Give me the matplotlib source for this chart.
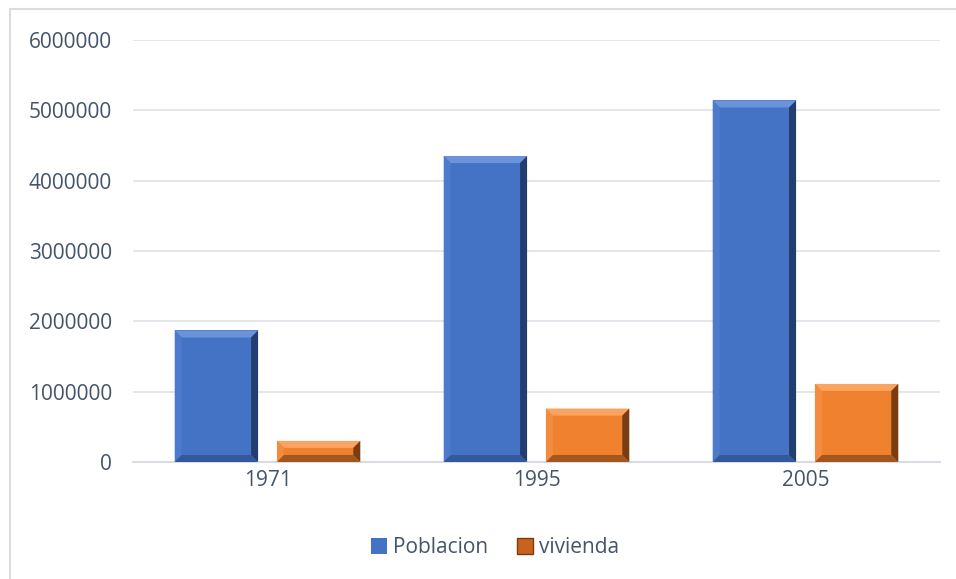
import numpy as np
import matplotlib.pyplot as plt
from matplotlib.patches import Polygon, Rectangle, Patch
from matplotlib.ticker import StrMethodFormatter

years = ["1971", "1995", "2005"]
poblacion = [1870000, 4350000, 5140000]
vivienda = [300000, 760000, 1110000]

text_c = "#44546A"
plt.rcParams["font.family"] = ["Open Sans", "DejaVu Sans"]

fig = plt.figure(figsize=(9.56, 5.79), dpi=100)
fig.patches.append(Rectangle((9.5 / 956, -0.1), 1.2, 1 - 9.5 / 579 + 0.1, transform=fig.transFigure,
                             fill=False, edgecolor="#D9DDE3", linewidth=1.5))
ax = fig.add_axes([133 / 956, 1 - 462 / 579, (940 - 133) / 956, (462 - 40) / 579])

x = np.arange(len(years))
w = 0.31
off = 0.19
b1 = ax.bar(x - off, poblacion, w, color="#4472C4", zorder=2)
b2 = ax.bar(x + off, vivienda, w, color="#F0822F", zorder=2)

ax.set_xlim(-0.5, 2.5)
ax.set_ylim(0, 6000000)
ax.set_yticks(np.arange(0, 6000001, 1000000))
ax.yaxis.set_major_formatter(StrMethodFormatter("{x:.0f}"))
ax.set_xticks(x)
ax.set_xticklabels(years)
ax.yaxis.grid(True, color="#E1E4E9", linewidth=1.3, zorder=0)
ax.set_axisbelow(True)
for s in ["top", "right", "left"]:
    ax.spines[s].set_visible(False)
ax.spines["bottom"].set_color("#D9DDE3")
ax.spines["bottom"].set_linewidth(1.5)
ax.tick_params(length=0, labelsize=15, labelcolor=text_c)
ax.tick_params(axis="y", pad=15)
ax.tick_params(axis="x", pad=6)

# bevel effect on each bar
fig.canvas.draw()
px = ax.transData.inverted().transform([(0, 0), (7, 7)])
dx = px[1, 0] - px[0, 0]
dy = px[1, 1] - px[0, 1]

def bevel(bars, top_c, left_c, right_c, bot_c):
    for r in bars:
        x0, y0 = r.get_x(), r.get_y()
        x1, y1 = x0 + r.get_width(), y0 + r.get_height()
        ey = min(dy, (y1 - y0) / 2)
        ex = dx
        ix0, ix1, iy0, iy1 = x0 + ex, x1 - ex, y0 + ey, y1 - ey
        ax.add_patch(Polygon([(x0, y1), (x1, y1), (ix1, iy1), (ix0, iy1)], color=top_c, zorder=3, lw=0))
        ax.add_patch(Polygon([(x0, y0), (x0, y1), (ix0, iy1), (ix0, iy0)], color=left_c, zorder=3, lw=0))
        ax.add_patch(Polygon([(x1, y0), (x1, y1), (ix1, iy1), (ix1, iy0)], color=right_c, zorder=3, lw=0))
        ax.add_patch(Polygon([(x0, y0), (x1, y0), (ix1, iy0), (ix0, iy0)], color=bot_c, zorder=3, lw=0))

bevel(b1, "#6B93DA", "#4D7ACB", "#233E6E", "#34589A")
bevel(b2, "#FAA461", "#F38C40", "#7A3C12", "#A3561E")

handles = [Patch(facecolor="#4472C4"), Patch(facecolor="#C8621F", edgecolor="#7A3A10")]
fig.legend(handles, ["Poblacion", "vivienda"], loc="center", bbox_to_anchor=(0.518, 0.054), ncol=2,
           frameon=False, fontsize=15, labelcolor=text_c, handlelength=0.75, handleheight=0.75,
           handletextpad=0.3, columnspacing=1.4)

fig.savefig("out.png", dpi=100)
